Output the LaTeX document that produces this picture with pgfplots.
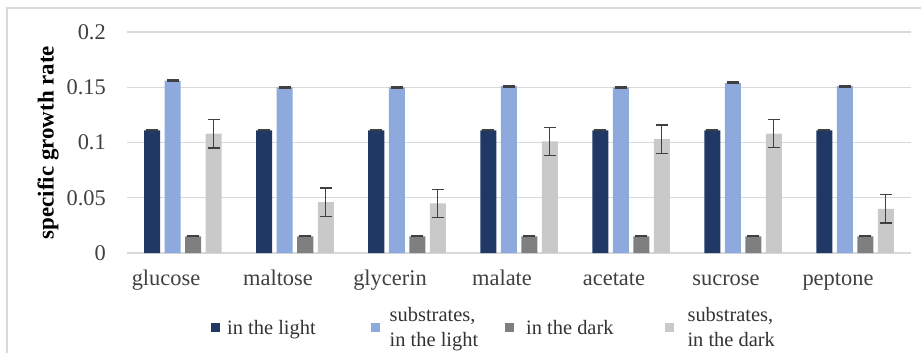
\documentclass[border=0pt]{standalone}
\usepackage{fontspec}
\setmainfont{Liberation Serif}
\usepackage{pgfplots}
\pgfplotsset{compat=1.18}
\definecolor{cnavy}{HTML}{1F3864}
\definecolor{cblue}{HTML}{8EA9DB}
\definecolor{cgray}{HTML}{7F7F7F}
\definecolor{clgray}{HTML}{C9C9C9}
\definecolor{cgrid}{HTML}{D9D9D9}
\definecolor{cerr}{HTML}{404040}
\begin{document}
\begin{tikzpicture}[x=1bp,y=1bp]
\begin{axis}[
  at={(0,0)}, anchor=south west,
  scale only axis, width=784bp, height=221bp,
  ybar=4.5bp, bar width=16bp,
  xmin=-0.5, xmax=6.5, ymin=0, ymax=0.2,
  clip=false,
  xtick={0,1,2,3,4,5,6},
  xticklabels={glucose,maltose,glycerin,malate,acetate,sucrose,peptone},
  ytick={0,0.05,0.1,0.15,0.2},
  /pgf/number format/.cd, fixed, precision=2, assume math mode=true, /pgfplots/.cd,
  axis line style={draw=none},
  major tick length=0pt,
  ymajorgrids,
  grid style={cgrid, line width=1.2bp},
  tick label style={font=\fontsize{22.5}{26}\selectfont, text=black!75},
  yticklabel style={anchor=east, inner sep=0pt, xshift=-21bp},
  xticklabel style={anchor=base, inner sep=0pt, yshift=-32bp, xshift=-17bp},
  ylabel={specific growth rate},
  every axis y label/.style={at={(axis description cs:0,0.5)}, rotate=90, anchor=center, yshift=79bp, font=\fontsize{23}{27}\selectfont\bfseries},
  legend columns=4,
  legend image code/.code={\fill[#1] (0bp,-4.5bp) rectangle (9bp,4.5bp);},
  legend style={at={(axis description cs:0.1072,-0.339)}, anchor=west, draw=none, fill=none, inner sep=0pt,
    font=\fontsize{20.5}{25}\selectfont, text=black!80,
    nodes={inner sep=0pt, anchor=west, align=left},
    /tikz/column 1/.style={column sep=7bp},
    /tikz/column 2/.style={column sep=55bp},
    /tikz/column 3/.style={column sep=10bp},
    /tikz/column 4/.style={column sep=27bp},
    /tikz/column 5/.style={column sep=12bp},
    /tikz/column 6/.style={column sep=51bp},
    /tikz/column 7/.style={column sep=14bp}},
]
\addplot[fill=cnavy, draw=none,
  error bars/.cd, y dir=both, y explicit,
  error bar style={draw=cerr, line width=1.4bp},
  error mark options={rotate=90, mark size=6bp, draw=cerr, line width=1.4bp}]
  coordinates {(0,0.111) +- (0,0.0004) (1,0.111) +- (0,0.0004) (2,0.111) +- (0,0.0004)
    (3,0.111) +- (0,0.0004) (4,0.111) +- (0,0.0004) (5,0.111) +- (0,0.0004) (6,0.111) +- (0,0.0004)};
\addplot[fill=cblue, draw=none,
  error bars/.cd, y dir=both, y explicit,
  error bar style={draw=cerr, line width=1.4bp},
  error mark options={rotate=90, mark size=6bp, draw=cerr, line width=1.4bp}]
  coordinates {(0,0.156) +- (0,0.0006) (1,0.150) +- (0,0.0006) (2,0.150) +- (0,0.0006)
    (3,0.151) +- (0,0.0006) (4,0.150) +- (0,0.0006) (5,0.154) +- (0,0.0006) (6,0.151) +- (0,0.0006)};
\addplot[fill=cgray, draw=none,
  error bars/.cd, y dir=both, y explicit,
  error bar style={draw=cerr, line width=1.4bp},
  error mark options={rotate=90, mark size=6bp, draw=cerr, line width=1.4bp}]
  coordinates {(0,0.015) +- (0,0.0003) (1,0.015) +- (0,0.0003) (2,0.015) +- (0,0.0003)
    (3,0.015) +- (0,0.0003) (4,0.015) +- (0,0.0003) (5,0.015) +- (0,0.0003) (6,0.015) +- (0,0.0003)};
\addplot[fill=clgray, draw=none,
  error bars/.cd, y dir=both, y explicit,
  error bar style={draw=cerr, line width=1.4bp},
  error mark options={rotate=90, mark size=6bp, draw=cerr, line width=1.4bp}]
  coordinates {(0,0.108) +- (0,0.013) (1,0.046) +- (0,0.0127) (2,0.045) +- (0,0.0127)
    (3,0.101) +- (0,0.0127) (4,0.103) +- (0,0.0127) (5,0.108) +- (0,0.0127) (6,0.040) +- (0,0.0127)};
\legend{in the light, {substrates,\\in the light}, in the dark, {substrates,\\in the dark}}
\end{axis}
\draw[cgrid, line width=1.5bp] (-120bp,-100bp) -- (-120bp,245bp) -- (794bp,245bp);
\pgfresetboundingbox
\path[use as bounding box] (-127bp,-100bp) rectangle (794bp,253bp);
\end{tikzpicture}
\end{document}
